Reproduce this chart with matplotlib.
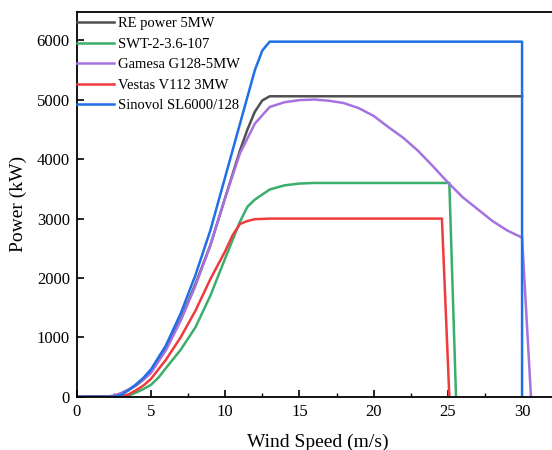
import matplotlib
matplotlib.use("Agg")
import matplotlib.pyplot as plt
from matplotlib.ticker import MultipleLocator

plt.rcParams['font.family'] = ['Liberation Serif', 'DejaVu Serif']

# RE power 5MW
re_v = [0, 2.5, 3, 3.5, 4, 4.5, 5, 6, 7, 8, 9, 10, 11, 11.5, 12, 12.5, 13, 30]
re_p = [0, 0, 60, 120, 190, 290, 420, 800, 1300, 1900, 2550, 3350, 4150, 4500, 4800, 4990, 5060, 5060]

# SWT-2-3.6-107
swt_v = [0, 3, 3.5, 4, 4.5, 5, 5.5, 6, 7, 8, 9, 10, 11, 11.5, 12, 13, 14, 15, 16, 25.1, 25.55]
swt_p = [0, 0, 20, 70, 130, 200, 320, 480, 790, 1170, 1700, 2330, 2950, 3200, 3320, 3490, 3560, 3590, 3600, 3600, 0]

# Gamesa G128-5MW
gam_v = [0, 2, 2.5, 3, 3.5, 4, 4.5, 5, 6, 7, 8, 9, 10, 11, 12, 13, 14, 15, 16, 17, 18, 19, 20,
         21, 22, 23, 24, 25, 26, 27, 28, 29, 30, 30.6]
gam_p = [0, 0, 20, 60, 120, 200, 290, 400, 780, 1280, 1870, 2550, 3350, 4100, 4600, 4880, 4960, 4995, 5005, 4985,
         4945, 4860, 4730, 4540, 4360, 4140, 3880, 3610, 3360, 3160, 2960, 2800, 2680, 0]

# Vestas V112 3MW
ves_v = [0, 3, 3.5, 4, 4.5, 5, 6, 7, 8, 9, 10, 10.5, 11, 11.5, 12, 13, 24.6, 25.1]
ves_p = [0, 0, 40, 110, 190, 300, 620, 1000, 1450, 1980, 2450, 2720, 2910, 2960, 2990, 3000, 3000, 0]

# Sinovel SL6000/128
sin_v = [0, 2.5, 3, 3.5, 4, 4.5, 5, 6, 7, 8, 9, 10, 11, 12, 12.5, 13, 30, 30]
sin_p = [0, 0, 30, 110, 210, 320, 460, 860, 1400, 2050, 2800, 3700, 4600, 5500, 5830, 5980, 5980, 0]

labels = ['RE power 5MW', 'SWT-2-3.6-107', 'Gamesa G128-5MW', 'Vestas V112 3MW', 'Sinovol SL6000/128']
colors = ['#505050', '#3aae6a', '#a572e0', '#ef3b3b', '#1f6fe6']

fig = plt.figure(figsize=(5.52, 4.5), dpi=100)
ax = fig.add_axes([0.139, 0.1184, 0.874, 0.855])

series = [(re_v, re_p), (swt_v, swt_p), (gam_v, gam_p), (ves_v, ves_p), (sin_v, sin_p)]
for (v, p), lab, c in zip(series, labels, colors):
    ax.plot(v, p, color=c, lw=1.8, label=lab, solid_joinstyle='round')

ax.set_xlim(0, 32.5)
ax.set_ylim(0, 6480)
ax.xaxis.set_major_locator(MultipleLocator(5))
ax.xaxis.set_minor_locator(MultipleLocator(2.5))
ax.yaxis.set_major_locator(MultipleLocator(1000))
ax.tick_params(axis='both', which='major', direction='in', length=5, width=1.2, labelsize=12, pad=5)
ax.tick_params(axis='x', which='minor', direction='in', length=3, width=1.0)
ax.spines['right'].set_visible(False)
for s in ['left', 'bottom', 'top']:
    ax.spines[s].set_linewidth(1.3)

ax.set_xlabel('Wind Speed (m/s)', fontsize=14, labelpad=10)
ax.set_ylabel('Power (kW)', fontsize=14, labelpad=7)

ax.legend(loc='upper left', bbox_to_anchor=(-0.011, 1.0), frameon=False, fontsize=10.5,
          handlelength=2.6, handletextpad=0.25, borderaxespad=0.0, borderpad=0.35,
          labelspacing=0.5)

fig.savefig('out.png', dpi=100)
